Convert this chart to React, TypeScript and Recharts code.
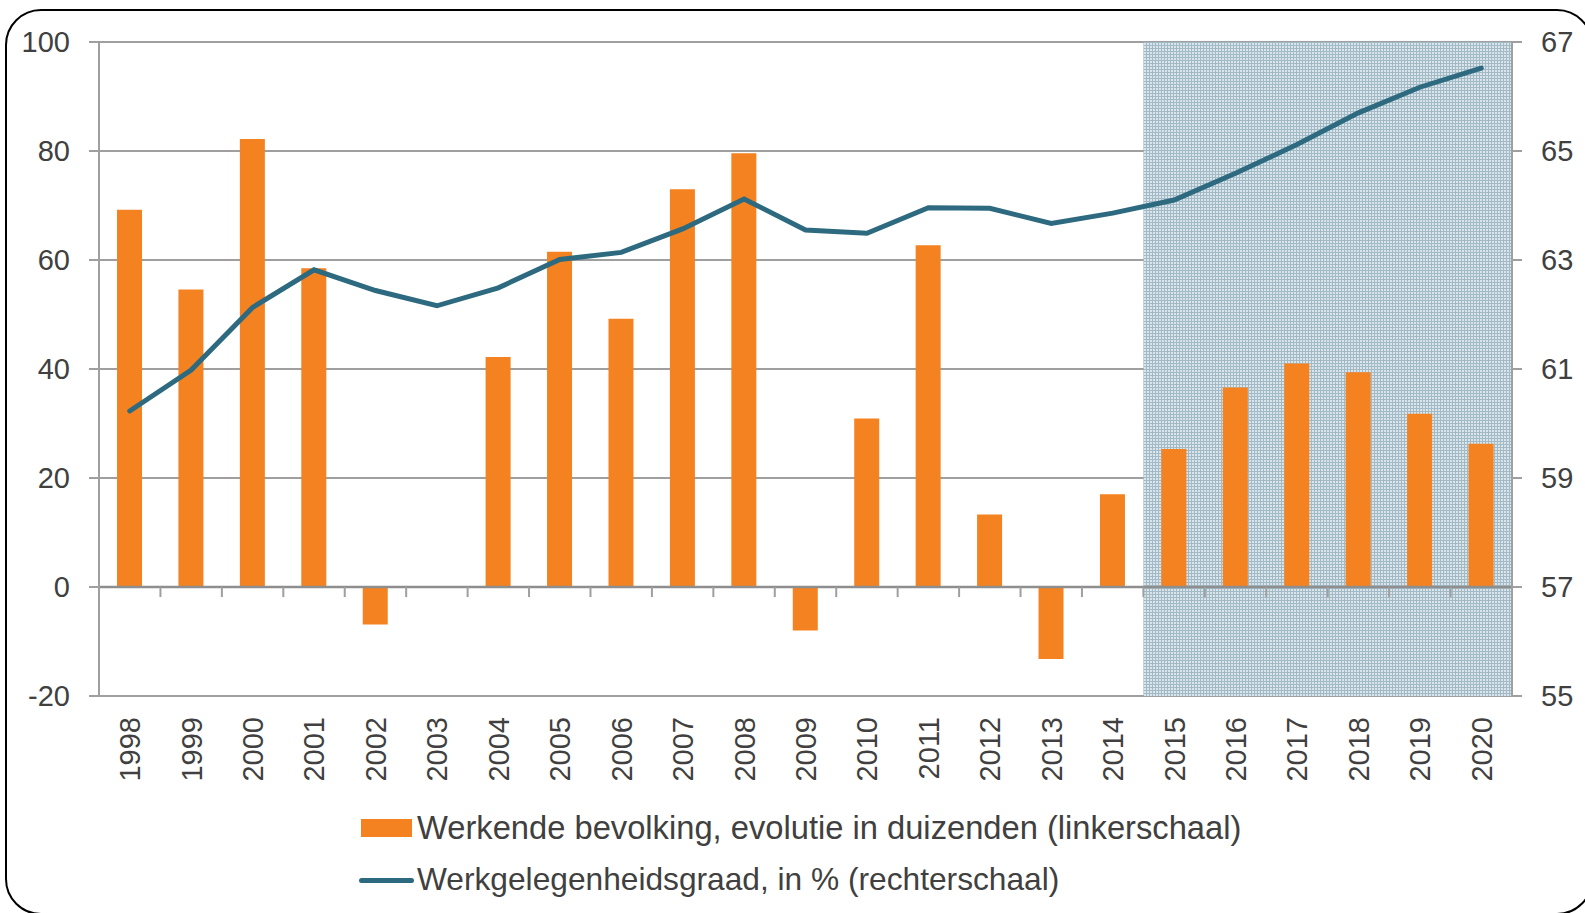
import React from "react";
import {
  ComposedChart,
  Bar,
  Line,
  XAxis,
  YAxis,
  CartesianGrid,
  ReferenceArea,
  ReferenceLine,
  Legend,
} from "recharts";

const years = [
  "1998", "1999", "2000", "2001", "2002", "2003", "2004", "2005", "2006", "2007", "2008", "2009",
  "2010", "2011", "2012", "2013", "2014", "2015", "2016", "2017", "2018", "2019", "2020",
];

// werkende bevolking, evolutie in duizenden (linkerschaal)
const workforceChange = [
  69.2, 54.6, 82.2, 58.5, -6.9, 0, 42.2, 61.5, 49.2, 73.0, 79.6, -8.0,
  30.9, 62.7, 13.3, -13.2, 17.0, 25.3, 36.6, 41.0, 39.4, 31.8, 26.3,
];

// werkgelegenheidsgraad in % (rechterschaal)
const employmentRate = [
  60.23, 60.98, 62.13, 62.82, 62.44, 62.16, 62.49, 63.01, 63.14, 63.57, 64.12, 63.55,
  63.49, 63.96, 63.95, 63.67, 63.86, 64.1, 64.59, 65.12, 65.7, 66.17, 66.52,
];

const leftTicks = [-20, 0, 20, 40, 60, 80, 100];
const rightTicks = [55, 57, 59, 61, 63, 65, 67];
const forecastFrom = "2015";
const forecastTo = "2020";

const barLabel = "Werkende bevolking, evolutie in duizenden (linkerschaal)";
const lineLabel = "Werkgelegenheidsgraad, in % (rechterschaal)";

const data = years.map((year, i) => ({
  year,
  workforce: workforceChange[i],
  rate: employmentRate[i],
}));

const ORANGE = "#f58220";
const TEAL = "#2d6a80";
const GRID = "#9f9f9f";
const TEXT = "#404040";

const YearTick = (props: any) => {
  const { x, y, payload } = props;
  return (
    <g transform={`translate(${x},${y})`}>
      <text
        transform="rotate(-90)"
        x={-21}
        y={0}
        dy="0.36em"
        textAnchor="end"
        fill={TEXT}
        fontSize={29}
      >
        {payload.value}
      </text>
    </g>
  );
};

const renderLegend = () => (
  <div style={{ color: TEXT, lineHeight: 1, whiteSpace: "nowrap" }}>
    <div style={{ display: "flex", alignItems: "center", height: 52, fontSize: 32.7 }}>
      <span
        style={{
          display: "inline-block",
          width: 51,
          height: 18,
          background: ORANGE,
          marginLeft: 6,
          marginRight: 5,
        }}
      />
      {barLabel}
    </div>
    <div style={{ display: "flex", alignItems: "center", height: 52, fontSize: 31.7 }}>
      <span
        style={{
          display: "inline-block",
          width: 55,
          height: 5,
          borderRadius: 3,
          background: TEAL,
          marginLeft: 4,
          marginRight: 3,
        }}
      />
      {lineLabel}
    </div>
  </div>
);

const App = () => {
  return (
    <div
      style={{
        position: "fixed",
        top: 0,
        left: 0,
        width: 1585,
        height: 913,
        overflow: "hidden",
        background: "#fff",
        fontFamily: "'Liberation Sans', Arial, sans-serif",
      }}
    >
      {/* rounded frame, runs off the right and bottom edge */}
      <div
        style={{
          position: "absolute",
          left: 5,
          top: 9,
          width: 1588,
          height: 906,
          boxSizing: "border-box",
          border: "2px solid #000",
          borderRadius: 36,
        }}
      />
      <div style={{ position: "absolute", left: 0, top: 0 }}>
        <ComposedChart
          width={1585}
          height={913}
          data={data}
          margin={{ top: 42, right: 0, left: 0, bottom: 117 }}
        >
          <defs>
            <pattern id="forecastGrid" width={3} height={3} patternUnits="userSpaceOnUse">
              <rect width={3} height={3} fill="#d9e5ea" />
              <rect width={3} height={1} fill="#a2bac6" />
              <rect width={1} height={3} fill="#a2bac6" />
            </pattern>
          </defs>
          <ReferenceArea
            yAxisId="left"
            x1={forecastFrom}
            x2={forecastTo}
            fill="url(#forecastGrid)"
            fillOpacity={1}
            stroke="none"
          />
          <CartesianGrid yAxisId="left" vertical={false} stroke={GRID} strokeWidth={2} />
          <XAxis
            dataKey="year"
            interval={0}
            axisLine={false}
            tickLine={false}
            tickSize={0}
            tickMargin={0}
            height={100}
            tick={<YearTick />}
          />
          <YAxis
            yAxisId="left"
            domain={[-20, 100]}
            ticks={leftTicks}
            width={99}
            tickSize={10}
            tickMargin={19}
            axisLine={{ stroke: GRID, strokeWidth: 2 }}
            tickLine={{ stroke: GRID, strokeWidth: 2 }}
            tick={{ fill: TEXT, fontSize: 29 }}
          />
          <YAxis
            yAxisId="right"
            orientation="right"
            domain={[55, 67]}
            ticks={rightTicks}
            width={73}
            tickSize={10}
            tickMargin={19}
            axisLine={{ stroke: GRID, strokeWidth: 2 }}
            tickLine={{ stroke: GRID, strokeWidth: 2 }}
            tick={{ fill: TEXT, fontSize: 29 }}
          />
          <ReferenceLine yAxisId="left" y={0} stroke="#8e8e8e" strokeWidth={2.5} />
          {years.slice(1).map((yr) => (
            <ReferenceLine
              key={yr}
              yAxisId="left"
              position="start"
              segment={[
                { x: yr, y: 0 },
                { x: yr, y: -1.85 },
              ]}
              stroke={GRID}
              strokeWidth={2}
            />
          ))}
          <Bar
            yAxisId="left"
            dataKey="workforce"
            name={barLabel}
            fill={ORANGE}
            barSize={25}
            isAnimationActive={false}
          />
          <Line
            yAxisId="right"
            dataKey="rate"
            name={lineLabel}
            type="linear"
            stroke={TEAL}
            strokeWidth={5}
            strokeLinecap="round"
            dot={false}
            activeDot={false}
            isAnimationActive={false}
          />
          <Legend
            layout="horizontal"
            verticalAlign="middle"
            align="center"
            wrapperStyle={{ left: 355, top: 802, width: 950 }}
            content={renderLegend}
          />
        </ComposedChart>
      </div>
    </div>
  );
};

export default App;
